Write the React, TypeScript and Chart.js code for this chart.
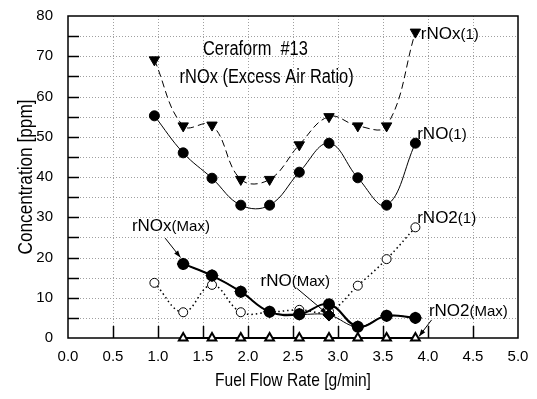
import React, { useEffect, useRef } from 'react';
import { Chart, registerables } from 'chart.js';
Chart.register(...registerables);

// ---- data ----
const fuelRate1 = [0.96, 1.28, 1.6, 1.92, 2.24, 2.57, 2.9, 3.22, 3.54, 3.86];
const rNOx1 = [69.1, 52.7, 52.9, 39.4, 39.4, 48.0, 55.0, 52.7, 52.7, 76.0];
const rNO1 = [55.2, 46.0, 39.7, 33.0, 33.0, 41.2, 48.4, 39.8, 33.0, 48.4];
const rNO2_1 = [13.7, 6.4, 13.2, 6.4, 6.4, 7.0, 6.6, 13.0, 19.6, 27.5];

const fuelRateMax = [1.28, 1.6, 1.92, 2.24, 2.57, 2.9, 3.22, 3.54, 3.86];
const rNOxMax = [18.4, 15.5, 11.5, 6.5, 5.9, 8.4, 2.8, 5.5, 5.0];
const rNOMax = [18.4, 15.5, 11.5, 6.5, 5.9, 5.7, 2.8, 5.5, 5.0];
const rNO2Max = [0, 0, 0, 0, 0, 0, 0, 0, 0];

const xTitle = 'Fuel Flow Rate [g/min]';
const yTitle = 'Concentration [ppm]';
const titleLines = ['Ceraform  #13', 'rNOx (Excess Air Ratio)'];

// series labels: [main, small, x, y] in data coordinates (left/baseline)
const seriesLabels: [string, string, number, number][] = [
  ['rNOx', '(1)', 3.92, 74.4],
  ['rNO', '(1)', 3.88, 49.4],
  ['rNO2', '(1)', 3.88, 28.6],
  ['rNOx', '(Max)', 0.71, 26.6],
  ['rNO', '(Max)', 2.14, 12.9],
  ['rNO2', '(Max)', 4.01, 5.5],
];
// arrows: from (x1,y1) to (x2,y2) in data coords
const arrows: [number, number, number, number][] = [
  [1.08, 24.8, 1.25, 20.0],
  [2.54, 12.4, 2.88, 6.0],
  [4.04, 4.5, 3.9, 0.4],
];

const pts = (xs: number[], ys: number[]) => xs.map((x, i) => ({ x, y: ys[i] }));

const SANS = '"Liberation Sans", Arial, sans-serif';

// draw horizontally condensed text (Arial-Narrow look)
function narrowText(ctx: CanvasRenderingContext2D, text: string, x: number, y: number, size: number, squeeze: number, align: CanvasTextAlign) {
  ctx.save();
  ctx.translate(x, y);
  ctx.scale(squeeze, 1);
  ctx.font = `${size}px ${SANS}`;
  ctx.textAlign = align;
  ctx.fillText(text, 0, 0);
  ctx.restore();
}

const frame = {
  id: 'frame',
  beforeDatasetsDraw(chart: any) {
    const { ctx, chartArea: a, scales } = chart;
    const x = scales.x, y = scales.y;
    ctx.save();
    // dotted grid
    ctx.strokeStyle = '#a0a0a0';
    ctx.lineWidth = 1;
    ctx.setLineDash([1, 2]);
    for (let v = 5; v < 80; v += 5) {
      const py = Math.round(y.getPixelForValue(v)) + 0.5;
      ctx.beginPath(); ctx.moveTo(a.left, py); ctx.lineTo(a.right, py); ctx.stroke();
    }
    for (let v = 0.5; v < 5; v += 0.5) {
      const px = Math.round(x.getPixelForValue(v)) + 0.5;
      ctx.beginPath(); ctx.moveTo(px, a.top); ctx.lineTo(px, a.bottom); ctx.stroke();
    }
    ctx.setLineDash([]);
    // inward ticks
    ctx.strokeStyle = '#000';
    ctx.lineWidth = 1.5;
    for (let v = 5; v < 80; v += 5) {
      const py = Math.round(y.getPixelForValue(v)) + 0.5;
      ctx.beginPath(); ctx.moveTo(a.left, py); ctx.lineTo(a.left + 11, py); ctx.stroke();
    }
    for (let v = 0.5; v < 5; v += 0.5) {
      const px = Math.round(x.getPixelForValue(v)) + 0.5;
      ctx.beginPath(); ctx.moveTo(px, a.bottom); ctx.lineTo(px, a.bottom - 12); ctx.stroke();
    }
    // frame
    ctx.lineWidth = 1.5;
    ctx.strokeRect(a.left, a.top, a.right - a.left, a.bottom - a.top);
    ctx.restore();
  },
  afterDraw(chart: any) {
    const { ctx, chartArea: a, scales } = chart;
    const x = scales.x, y = scales.y;
    ctx.save();
    ctx.fillStyle = '#000';
    ctx.strokeStyle = '#000';
    // axis titles
    ctx.textBaseline = 'middle';
    narrowText(ctx, xTitle, (a.left + a.right) / 2, 381, 19, 0.82, 'center');
    ctx.save();
    ctx.translate(26, (a.top + a.bottom) / 2);
    ctx.rotate(-Math.PI / 2);
    narrowText(ctx, yTitle, 0, 0, 21, 0.82, 'center');
    ctx.restore();
    // title lines
    ctx.textBaseline = 'alphabetic';
    narrowText(ctx, titleLines[0], x.getPixelForValue(1.5), y.getPixelForValue(70.3), 20, 0.82, 'left');
    narrowText(ctx, titleLines[1], x.getPixelForValue(1.24), y.getPixelForValue(63.4), 20, 0.82, 'left');
    // series labels
    ctx.textAlign = 'left';
    for (const [main, small, lx, ly] of seriesLabels) {
      const px = x.getPixelForValue(lx), py = y.getPixelForValue(ly);
      ctx.font = `17px ${SANS}`;
      ctx.fillText(main, px, py);
      const w = ctx.measureText(main).width;
      ctx.font = `15px ${SANS}`;
      ctx.fillText(small, px + w, py);
    }
    // arrows
    ctx.lineWidth = 1;
    for (const [x1, y1, x2, y2] of arrows) {
      const p1x = x.getPixelForValue(x1), p1y = y.getPixelForValue(y1);
      const p2x = x.getPixelForValue(x2), p2y = y.getPixelForValue(y2);
      ctx.beginPath(); ctx.moveTo(p1x, p1y); ctx.lineTo(p2x, p2y); ctx.stroke();
      const ang = Math.atan2(p2y - p1y, p2x - p1x);
      const L = 7, W = 2.5;
      ctx.beginPath();
      ctx.moveTo(p2x, p2y);
      ctx.lineTo(p2x - L * Math.cos(ang) + W * Math.sin(ang), p2y - L * Math.sin(ang) - W * Math.cos(ang));
      ctx.lineTo(p2x - L * Math.cos(ang) - W * Math.sin(ang), p2y - L * Math.sin(ang) + W * Math.cos(ang));
      ctx.closePath();
      ctx.fill();
    }
    ctx.restore();
  },
};

export default function App() {
  const ref = useRef<HTMLCanvasElement>(null);
  useEffect(() => {
    document.body.style.margin = '0';
    const chart = new Chart(ref.current!, {
      type: 'line',
      data: {
        datasets: [
          {
            label: 'rNO2(Max)', data: pts(fuelRateMax, rNO2Max), order: 0,
            borderColor: '#000', borderWidth: 2, tension: 0,
            pointStyle: 'triangle', pointRadius: 5, pointBackgroundColor: '#fff',
            pointBorderColor: '#000', pointBorderWidth: 2, clip: false,
          },
          {
            label: 'rNOx(Max)', data: pts(fuelRateMax, rNOxMax), order: 1,
            borderColor: '#000', borderWidth: 2, tension: 0.4,
            pointStyle: 'circle', pointRadius: 5, pointBackgroundColor: '#000',
            pointBorderColor: '#000', clip: false,
          },
          {
            label: 'rNO(Max)', data: pts(fuelRateMax, rNOMax), order: 2,
            borderColor: '#000', borderWidth: 1, tension: 0.4,
            pointStyle: 'rectRot', pointRadius: 6, pointBackgroundColor: '#000',
            pointBorderColor: '#000', clip: false,
          },
          {
            label: 'rNO(1)', data: pts(fuelRate1, rNO1), order: 3,
            borderColor: '#000', borderWidth: 1, tension: 0.4,
            pointStyle: 'circle', pointRadius: 5, pointBackgroundColor: '#000',
            pointBorderColor: '#000', clip: false,
          },
          {
            label: 'rNOx(1)', data: pts(fuelRate1, rNOx1), order: 4,
            borderColor: '#000', borderWidth: 1, borderDash: [7, 4], tension: 0.4,
            pointStyle: 'triangle', pointRotation: 180, pointRadius: 6,
            pointBackgroundColor: '#000', pointBorderColor: '#000', clip: false,
          },
          {
            label: 'rNO2(1)', data: pts(fuelRate1, rNO2_1), order: 5,
            borderColor: '#000', borderWidth: 1.5, borderDash: [1.5, 3], tension: 0.4,
            pointStyle: 'circle', pointRadius: 4.5, pointBackgroundColor: '#fff',
            pointBorderColor: '#000', pointBorderWidth: 1, clip: false,
          },
        ] as any,
      },
      options: {
        responsive: false,
        animation: false,
        layout: { padding: { left: 0, top: 16, right: 19, bottom: 0 } },
        plugins: { legend: { display: false }, tooltip: { enabled: false }, title: { display: false } },
        scales: {
          x: {
            type: 'linear', min: 0, max: 5,
            grid: { display: false }, border: { display: false },
            ticks: {
              stepSize: 0.5, autoSkip: false, maxRotation: 0, padding: 2,
              color: '#000', font: { family: SANS, size: 15 },
              callback: (v: any) => Number(v).toFixed(1),
            },
            afterFit: (s: any) => { s.height = 61; },
          },
          y: {
            type: 'linear', min: 0, max: 80,
            grid: { display: false }, border: { display: false },
            ticks: {
              stepSize: 10, autoSkip: false, padding: 7,
              color: '#000', font: { family: SANS, size: 15 },
              callback: (v: any) => String(v),
            },
            afterFit: (s: any) => { s.width = 68; },
          },
        },
      } as any,
      plugins: [frame],
    });
    return () => chart.destroy();
  }, []);
  return (
    <div style={{ width: 537, height: 399 }}>
      <canvas ref={ref} width={537} height={399} style={{ display: 'block' }} />
    </div>
  );
}
